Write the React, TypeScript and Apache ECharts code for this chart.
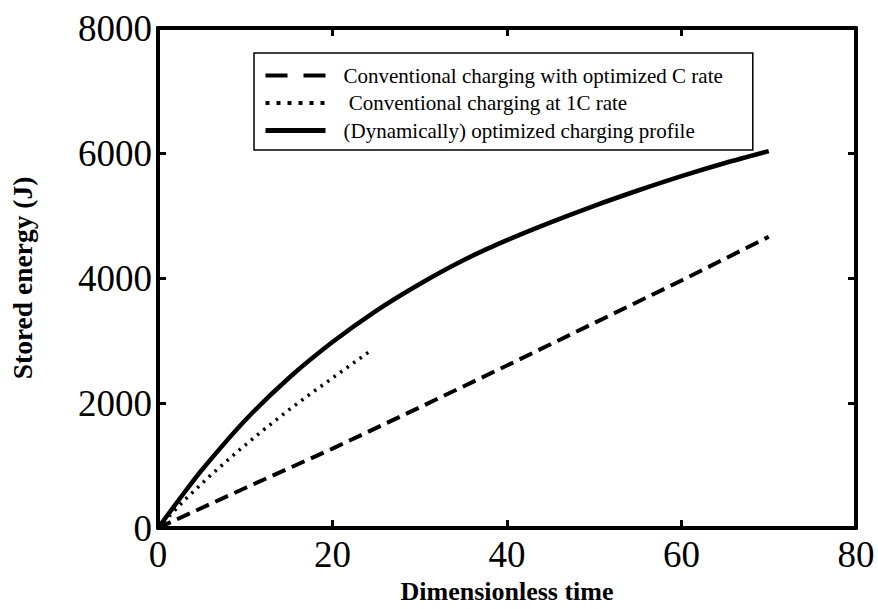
import React, { useEffect, useRef } from "react";
import * as echarts from "echarts";

const seriesNames = [
  "Conventional charging with optimized C rate",
  " Conventional charging at 1C rate",
  "(Dynamically) optimized charging profile",
];

const dashedData: [number, number][] = [
  [0, 0], [10, 640], [20, 1270], [30, 1930], [40, 2600], [50, 3280], [60, 3960], [70, 4660],
];
const dottedData: [number, number][] = [
  [0, 0], [3, 440], [6, 840], [9, 1210], [12, 1560], [15, 1890], [18, 2200], [21, 2500], [24.5, 2850],
];
const solidData: [number, number][] = [
  [0, 0], [2.5, 470], [5, 925], [10, 1725], [15, 2400], [20, 2975], [25, 3475], [30, 3905],
  [35, 4285], [40, 4605], [45, 4890], [50, 5155], [55, 5400], [60, 5630], [65, 5840], [70, 6030],
];

const xTitle = "Dimensionless time";
const yTitle = "Stored energy (J)";

const FONT = "'Liberation Serif', 'Times New Roman', serif";

export default function App() {
  const ref = useRef<HTMLDivElement>(null);
  useEffect(() => {
    if (!ref.current) return;
    const chart = echarts.init(ref.current, undefined, { renderer: "svg" });
    const axisCommon = {
      axisLine: { show: true, onZero: false, lineStyle: { color: "#000", width: 4 } },
      axisTick: { show: true, inside: true, length: 8, lineStyle: { color: "#000", width: 3 } },
      splitLine: { show: false },
    };
    const hiddenSymbol = { opacity: 0, borderWidth: 0, color: "rgba(0,0,0,0)" };
    chart.setOption({
      animation: false,
      backgroundColor: "#fff",
      grid: { left: 152, top: 28, right: 22, bottom: 78, containLabel: false },
      legend: {
        orient: "vertical",
        left: 254,
        top: 53,
        borderColor: "#000",
        borderWidth: 1.5,
        padding: [12, 30, 9, 9],
        itemWidth: 60,
        itemHeight: 20,
        itemGap: 6.5,
        textStyle: { fontFamily: FONT, fontSize: 21, color: "#000", padding: [0, 0, 0, 13] },
        data: [
          { name: seriesNames[0], itemStyle: hiddenSymbol, lineStyle: { type: [22, 16], width: 4 } },
          { name: seriesNames[1], itemStyle: hiddenSymbol, lineStyle: { type: [4, 7], width: 4 } },
          { name: seriesNames[2], itemStyle: hiddenSymbol, lineStyle: { type: "solid", width: 5 } },
        ],
      },
      xAxis: [
        {
          type: "value", min: 0, max: 80, interval: 20, position: "bottom",
          ...axisCommon,
          axisLabel: { fontFamily: FONT, fontSize: 37, color: "#000", margin: 8, formatter: (v: number) => String(v) },
          name: xTitle, nameLocation: "middle", nameGap: 50,
          nameTextStyle: { fontFamily: FONT, fontSize: 26, fontWeight: "bold", color: "#000" },
        },
        {
          type: "value", min: 0, max: 80, interval: 20, position: "top",
          ...axisCommon, axisLabel: { show: false },
        },
      ],
      yAxis: [
        {
          type: "value", min: 0, max: 8000, interval: 2000, position: "left",
          ...axisCommon,
          axisLabel: { fontFamily: FONT, fontSize: 37, color: "#000", margin: 6, formatter: (v: number) => String(v) },
          name: yTitle, nameLocation: "middle", nameGap: 122,
          nameTextStyle: { fontFamily: FONT, fontSize: 27.5, fontWeight: "bold", color: "#000" },
        },
        {
          type: "value", min: 0, max: 8000, interval: 2000, position: "right",
          ...axisCommon, axisLabel: { show: false },
        },
      ],
      series: [
        {
          name: seriesNames[0], type: "line", data: dashedData, symbol: "none",
          lineStyle: { color: "#000", width: 4, type: [14, 7] }, itemStyle: { color: "#000" },
        },
        {
          name: seriesNames[1], type: "line", data: dottedData, symbol: "none",
          lineStyle: { color: "#000", width: 3.5, type: [2.5, 5.5] }, itemStyle: { color: "#000" },
        },
        {
          name: seriesNames[2], type: "line", data: solidData, symbol: "none", smooth: 0.3,
          lineStyle: { color: "#000", width: 4.5, type: "solid" }, itemStyle: { color: "#000" },
        },
      ],
    });
    return () => chart.dispose();
  }, []);
  return <div ref={ref} style={{ width: 878, height: 609, position: "absolute", left: 0, top: 0 }} />;
}
